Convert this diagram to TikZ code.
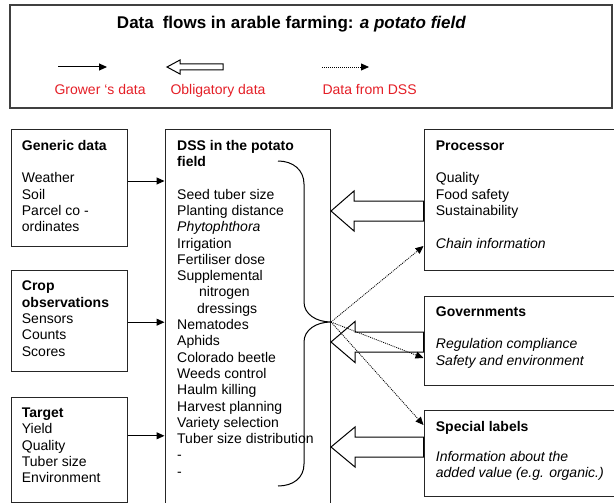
\documentclass[tikz,border=0pt]{standalone}
\usepackage{fontspec}
\setmainfont{Liberation Sans}
\usetikzlibrary{arrows.meta,calc}

\definecolor{legendred}{RGB}{228,30,38}

% hollow block arrow: tail, tip, head length, head half width, shaft half width
\newcommand{\obligarrow}[5]{%
    \draw[oblig] (#2) -- ($(#2)+(#3,-#4)$) -- ($(#2)+(#3,-#5)$) -- ($(#1)+(0,-#5)$)
        -- ($(#1)+(0,#5)$) -- ($(#2)+(#3,#5)$) -- ($(#2)+(#3,#4)$) -- cycle;}

\begin{document}
\begin{tikzpicture}[x=1pt,y=-1pt,
        font=\fontsize{14}{16.3}\selectfont,
        box/.style={draw=black!85,line width=1pt},
        txt/.style={anchor=north west,align=left,inner sep=0pt},
        growerflow/.style={-{Triangle[length=8pt,width=7pt]},line width=1pt},
        oblig/.style={line width=1pt,line join=miter},
        dssflow/.style={-{Triangle[length=8pt,width=7pt]},line width=0.8pt,dash pattern=on 1pt off 1pt}]
        \useasboundingbox (0,0) rectangle (614,503);
        \clip (0,0) rectangle (614,503);

        % legend
        \node[box,draw=black!75,line width=1.3pt,minimum width=602pt,minimum height=103pt] (legend) at (311,56.5) {};
        \node[anchor=base] (title) at (291.5,29)
            {\fontsize{17}{20}\selectfont\bfseries Data\hspace{9pt}flows in arable farming: \textit{a potato field}};

        \coordinate (g1) at (58,67);
        \coordinate (g2) at (107,67);
        \draw[growerflow] (g1) -- (g2);
        \coordinate (o1) at (223,67);
        \coordinate (o2) at (167,67);
        \obligarrow{o1}{o2}{13}{7}{3}
        \coordinate (d1) at (322,67);
        \coordinate (d2) at (369,67);
        \draw[dssflow] (d1) -- (d2);

        \node[anchor=base west,text=legendred] (lgrow) at (51,94.3) {Grower ‘s data};
        \node[anchor=base west,text=legendred] (lobl) at (167,94.3) {Obligatory data};
        \node[anchor=base west,text=legendred] (ldss) at (319,94.3) {Data from DSS};

        % grower boxes
        \node[box,minimum width=116pt,minimum height=117.4pt] (generic) at (69,188) {};
        \node[box,minimum width=116pt,minimum height=101pt] (crop) at (69,321.2) {};
        \node[box,minimum width=116pt,minimum height=105pt] (target) at (69,449.8) {};

        \node[txt] (generictxt) at (21.7,138.6)
            {\strut\textbf{Generic data}\\[16.3pt]Weather\\Soil\\Parcel co -\\ordinates};
        \node[txt] (croptxt) at (21.7,279.3)
            {\strut\textbf{Crop}\\\textbf{observations}\\Sensors\\Counts\\Scores};
        \node[txt] (targettxt) at (21.7,405.9)
            {\strut\textbf{Target}\\Yield\\Quality\\Tuber size\\Environment};

        % DSS
        \node[box,minimum width=165.5pt,minimum height=390.7pt] (dss) at (247.75,324.65) {};
        \node[txt] (dsstxt) at (177,138.6)
            {\strut\textbf{DSS in the potato}\\\textbf{field}\\[16.3pt]
            Seed tuber size\\Planting distance\\\textit{Phytophthora}\\Irrigation\\Fertiliser dose\\
            Supplemental\\\hspace*{22pt}nitrogen\\\hspace*{20pt}dressings\\
            Nematodes\\Aphids\\Colorado beetle\\Weeds control\\Haulm killing\\
            Harvest planning\\Variety selection\\Tuber size distribution\\-\\-};

        \coordinate (btip) at (dss.east |- 0,322);
        \draw[line width=1pt] (278,161) .. controls (293,161) and (304,170) .. (304,184)
            -- (304,302) .. controls (304,314) and (316,322) .. (btip)
            .. controls (316,322) and (304,330) .. (304,342)
            -- (304,464) .. controls (304,478) and (293,486) .. (278,486);

        % chain partners
        \node[box,minimum width=192pt,minimum height=140pt] (proc) at (520,200) {};
        \node[box,minimum width=192pt,minimum height=89pt] (govt) at (520,340.5) {};
        \node[box,minimum width=192pt,minimum height=86pt] (spec) at (520,453) {};

        \node[txt] (proctxt) at (435.7,138.6)
            {\strut\textbf{Processor}\\[16.3pt]Quality\\Food safety\\Sustainability\\[16.3pt]\textit{Chain information}};
        \node[txt] (govttxt) at (435.7,304.6)
            {\strut\textbf{Governments}\\[16.3pt]\textit{Regulation compliance}\\\textit{Safety and environment}};
        \node[txt] (spectxt) at (435.7,419.6)
            {\strut\textbf{Special labels}\\[14pt]\textit{Information about the}\\\textit{added value (e.g. organic.)}};

        % grower's data
        \draw[growerflow] ([yshift=7pt]generic.east) coordinate (ga) -- (ga -| dss.west);
        \draw[growerflow] ([yshift=-1pt]crop.east) coordinate (ca) -- (ca -| dss.west);
        \draw[growerflow] ([yshift=14pt]target.east) coordinate (ta) -- (ta -| dss.west);

        % obligatory data
        \coordinate (pa) at ([yshift=-11pt]proc.west);
        \coordinate (pb) at (pa -| dss.east);
        \obligarrow{pa}{pb}{23}{20}{10}
        \coordinate (va) at ([yshift=-1.5pt]govt.west);
        \coordinate (vb) at (va -| dss.east);
        \obligarrow{va}{vb}{24}{20.5}{10}
        \coordinate (sa) at ([yshift=6pt]spec.west);
        \coordinate (sb) at (sa -| dss.east);
        \obligarrow{sa}{sb}{24}{20}{10}

        % data from DSS
        \draw[dssflow] (btip) -- ([yshift=-46pt]proc.west);
        \draw[dssflow] (btip) -- ([yshift=-17.5pt]govt.west);
        \draw[dssflow] (btip) -- ([yshift=28pt]spec.west);

    \end{tikzpicture}
\end{document}
